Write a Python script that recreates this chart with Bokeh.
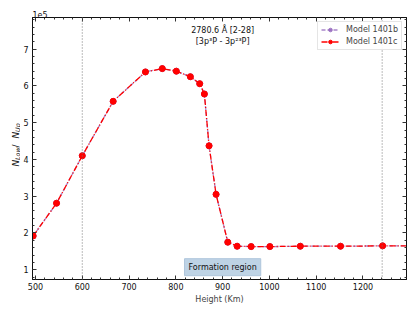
import math
from bokeh.plotting import figure
from bokeh.layouts import row
from bokeh.models import (Range1d, SingleIntervalTicker, LinearAxis, Span, Label,
                          Legend, LegendItem, CustomJSTickFormatter, ColumnDataSource,
                          Title)
from bokeh.core.properties import value
from bokeh.embed import file_html
from bokeh.resources import INLINE

# ---- data ----
height_km = [495, 545, 600, 666, 735, 771, 801, 831, 851, 861, 871, 886,
             911, 931, 961, 1001, 1066, 1152, 1242, 1350]
ratio_1401b = [1.92e5, 2.81e5, 4.10e5, 5.58e5, 6.38e5, 6.47e5, 6.40e5, 6.25e5,
               6.06e5, 5.78e5, 4.37e5, 3.05e5, 1.75e5, 1.64e5, 1.63e5, 1.63e5,
               1.64e5, 1.64e5, 1.65e5, 1.65e5]
ratio_1401c = [1.92e5, 2.81e5, 4.10e5, 5.58e5, 6.38e5, 6.47e5, 6.40e5, 6.25e5,
               6.06e5, 5.78e5, 4.37e5, 3.05e5, 1.75e5, 1.64e5, 1.63e5, 1.63e5,
               1.64e5, 1.64e5, 1.65e5, 1.65e5]
series_names = ["Model 1401b", "Model 1401c"]
formation_bounds = [600, 1241]
formation_text = "Formation region"
formation_center = 900
annot_lines = ["2780.6 \u00c5 [2-28]", "[3p\u00b3P - 3p\u00b2\u00b3P]"]
x_label = "Height (Km)"
y_label_parts = ["N", "Low", " / ", "N", "Up"]
y_exponent_text = "1e5"
x_lim = [493.6, 1293]
y_lim = [0.735e5, 7.86e5]

FONT = "DejaVu Sans"
FIG_H = 312
LEFT_W = 20

p = figure(frame_width=374, frame_height=262,
           x_range=Range1d(*x_lim), y_range=Range1d(*y_lim),
           output_backend="svg", toolbar_location=None,
           min_border_left=10, min_border_top=17, min_border_right=9,
           min_border_bottom=33, background_fill_color="white",
           border_fill_color="white")
p.title = Title(text=y_exponent_text, align="left", text_font=FONT,
                text_font_size="8px", text_font_style="normal",
                text_color="#111111", standoff=0, offset=0)
p.xgrid.grid_line_color = None
p.ygrid.grid_line_color = None
p.outline_line_color = "#111111"
p.outline_line_width = 1

xt = SingleIntervalTicker(interval=100, num_minor_ticks=5)
yt = SingleIntervalTicker(interval=1e5, num_minor_ticks=5)
yfmt = CustomJSTickFormatter(code="return (tick/1e5).toFixed(0);")
blank = CustomJSTickFormatter(code="return '';")


def style(ax, labels=True, standoff=4):
    ax.major_tick_in = 4
    ax.major_tick_out = 0
    ax.minor_tick_in = 2
    ax.minor_tick_out = 0
    ax.major_tick_line_color = "#333333"
    ax.minor_tick_line_color = "#333333"
    ax.axis_line_color = "#111111"
    ax.major_label_text_font = FONT
    ax.major_label_text_font_size = "8px" if labels else "0px"
    ax.major_label_text_color = "#111111"
    ax.major_label_standoff = standoff if labels else 0


xa = p.xaxis[0]
xa.ticker = xt
style(xa, standoff=3)
xa.axis_label = x_label
xa.axis_label_text_font = FONT
xa.axis_label_text_font_size = "8px"
xa.axis_label_text_font_style = "normal"
xa.axis_label_standoff = 2

ya = p.yaxis[0]
ya.ticker = yt
ya.formatter = yfmt
style(ya, standoff=4)
ya.major_label_orientation = "horizontal"

top_ax = LinearAxis(ticker=xt, formatter=blank)
style(top_ax, labels=False)
p.add_layout(top_ax, "above")
right_ax = LinearAxis(ticker=yt, formatter=blank)
style(right_ax, labels=False)
p.add_layout(right_ax, "right")

# formation region bounds
for loc in formation_bounds:
    p.add_layout(Span(location=loc, dimension="height", line_color="#777777",
                      line_dash="1 2", line_width=1))

src_b = ColumnDataSource(dict(x=height_km, y=ratio_1401b))
src_c = ColumnDataSource(dict(x=height_km, y=ratio_1401c))

lb = p.line("x", "y", source=src_b, line_color="#9467bd", line_alpha=0.8,
            line_width=1.3, line_dash="4 2")
mb = p.scatter("x", "y", source=src_b, size=6, fill_color="#9467bd",
               line_color="#9467bd", fill_alpha=0.8, line_alpha=0.8)
lc = p.line("x", "y", source=src_c, line_color="#ff0000", line_width=1.3,
            line_dash="6 2 1 2")
mc = p.scatter("x", "y", source=src_c, size=6, fill_color="#ff0000",
               line_color="#ff0000")

legend = Legend(items=[LegendItem(label=series_names[0], renderers=[lb, mb]),
                       LegendItem(label=series_names[1], renderers=[lc, mc])],
                location="top_right", margin=4, padding=3, spacing=3,
                glyph_width=18, glyph_height=9, label_height=9,
                label_standoff=7, label_text_font=FONT,
                label_text_font_size="8px", border_line_color="#cccccc",
                border_line_width=1, background_fill_alpha=0.9)
p.add_layout(legend)

# annotation text
p.add_layout(Label(x=formation_center, y=y_lim[1], y_offset=-13,
                   text=annot_lines[0], text_align="center",
                   text_baseline="middle", text_font=FONT,
                   text_font_size="8px", text_color="#111111"))
p.add_layout(Label(x=formation_center, y=y_lim[1], y_offset=-24,
                   text=annot_lines[1], text_align="center",
                   text_baseline="middle", text_font=FONT,
                   text_font_size="8px", text_color="#111111"))

# formation region box label
p.add_layout(Label(x=formation_center, y=y_lim[0], y_offset=12.3,
                   text=formation_text, text_align="center",
                   text_baseline="middle", text_font=FONT,
                   text_font_size="8px", text_color="#111111",
                   background_fill_color="#bed3e5", background_fill_alpha=1,
                   border_line_color="#aec6dc", padding=4))

# ---- narrow figure holding the rotated y-axis label N_Low / N_Up ----
yl = figure(frame_width=LEFT_W, frame_height=FIG_H,
            x_range=Range1d(0, LEFT_W), y_range=Range1d(0, FIG_H),
            output_backend="svg", toolbar_location=None,
            min_border=0, x_axis_location=None, y_axis_location=None,
            background_fill_color="white", border_fill_color="white")
yl.title.text = ""
yl.title.text_font_size = "0px"
yl.title.standoff = 0
yl.title.offset = 0
yl.outline_line_color = None
yl.xgrid.grid_line_color = None
yl.ygrid.grid_line_color = None
yc = FIG_H - 148.5 + 21
# (piece index, offset along text, font size, style, baseline x)
layout_spec = [(0, -21.6, "9px", "italic", 15.3),
               (1, -14.9, "6.3px", "italic", 17.0),
               (2, -2.4, "9px", "normal", 15.3),
               (3, 6.4, "9px", "italic", 15.3),
               (4, 13.1, "6.3px", "italic", 17.0)]
for idx, off, fs, st, bx in layout_spec:
    yl.text(x=[bx], y=[yc + off], text=[y_label_parts[idx]], angle=math.pi / 2,
            text_align="left", text_baseline="alphabetic",
            text_font=value(FONT), text_font_size=value(fs),
            text_font_style=st, text_color="#111111")

layout = row(yl, p, spacing=0)
open("out.html", "w").write(file_html(layout, INLINE))
